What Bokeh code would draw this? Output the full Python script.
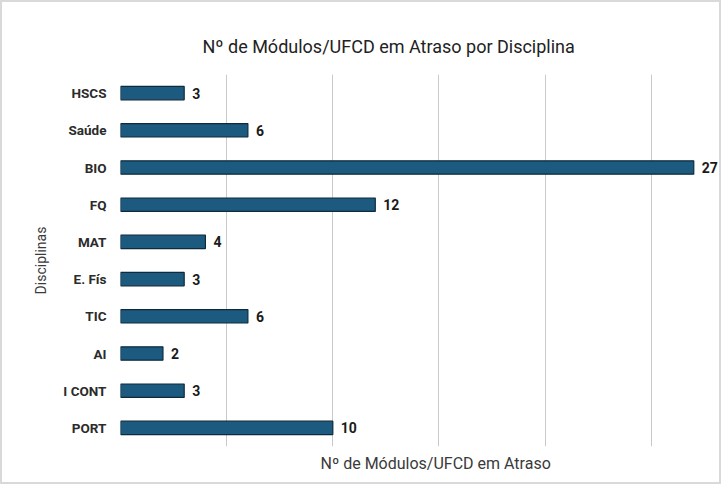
from bokeh.plotting import figure
from bokeh.models import ColumnDataSource, Title, Range1d, FactorRange, LabelSet
from bokeh.embed import file_html
from bokeh.resources import INLINE
from bokeh.core.properties import value

categories = ["HSCS", "Saúde", "BIO", "FQ", "MAT", "E. Fís", "TIC", "AI", "I CONT", "PORT"]
counts = [3, 6, 27, 12, 4, 3, 6, 2, 3, 10]
grid_ticks = [0, 5, 10, 15, 20, 25]

src = ColumnDataSource(dict(cat=categories, val=counts, lab=[str(v) for v in counts]))

p = figure(width=721, height=484, output_backend="svg", toolbar_location=None,
           y_range=FactorRange(factors=list(reversed(categories)), range_padding=0),
           x_range=Range1d(0, 28.4),
           min_border_left=118, min_border_right=0, min_border_top=72, min_border_bottom=40)

p.title = Title(text="Nº de Módulos/UFCD em Atraso por Disciplina", align="left", offset=82,
                text_font="Roboto", text_font_size="18px", text_font_style="normal",
                text_color="#222222", standoff=35)

p.hbar(y="cat", right="val", left=0, height=0.36, source=src,
       fill_color="#1d5a7f", line_color="#0e2b3e", line_width=1.2)
p.add_layout(LabelSet(x="val", y="cat", text="lab", source=src, x_offset=8,
                      text_baseline="middle", text_align="left", text_font=value("Roboto"),
                      text_font_size="14px", text_font_style="bold", text_color="#1a1a1a"))

p.xaxis.visible = False
p.xgrid.ticker = grid_ticks
p.xgrid.grid_line_color = "#c9c9c9"
p.xgrid.grid_line_width = 1
p.ygrid.grid_line_color = None

ax = p.yaxis[0]
ax.axis_line_color = None
ax.major_tick_line_color = None
ax.minor_tick_line_color = None
ax.major_tick_out = 0
ax.major_tick_in = 0
ax.major_label_text_font = "Roboto"
ax.major_label_text_font_size = "13.5px"
ax.major_label_text_font_style = "bold"
ax.major_label_text_color = "#2b2b2b"
ax.major_label_standoff = 14
ax.axis_label = "Disciplinas"
ax.axis_label_text_font = "Roboto"
ax.axis_label_text_font_size = "14px"
ax.axis_label_text_font_style = "normal"
ax.axis_label_text_color = "#3a3a3a"
ax.axis_label_standoff = 11

p.add_layout(Title(text="Nº de Módulos/UFCD em Atraso", align="left", offset=200,
                   text_font="Roboto", text_font_size="16px", text_font_style="normal",
                   text_color="#3a3a3a", standoff=10), "below")

p.outline_line_color = None
p.background_fill_color = "white"
p.border_fill_color = "white"
p.styles = {"border": "2px solid #d9d9d9"}

open("out.html", "w").write(file_html(p, INLINE))
